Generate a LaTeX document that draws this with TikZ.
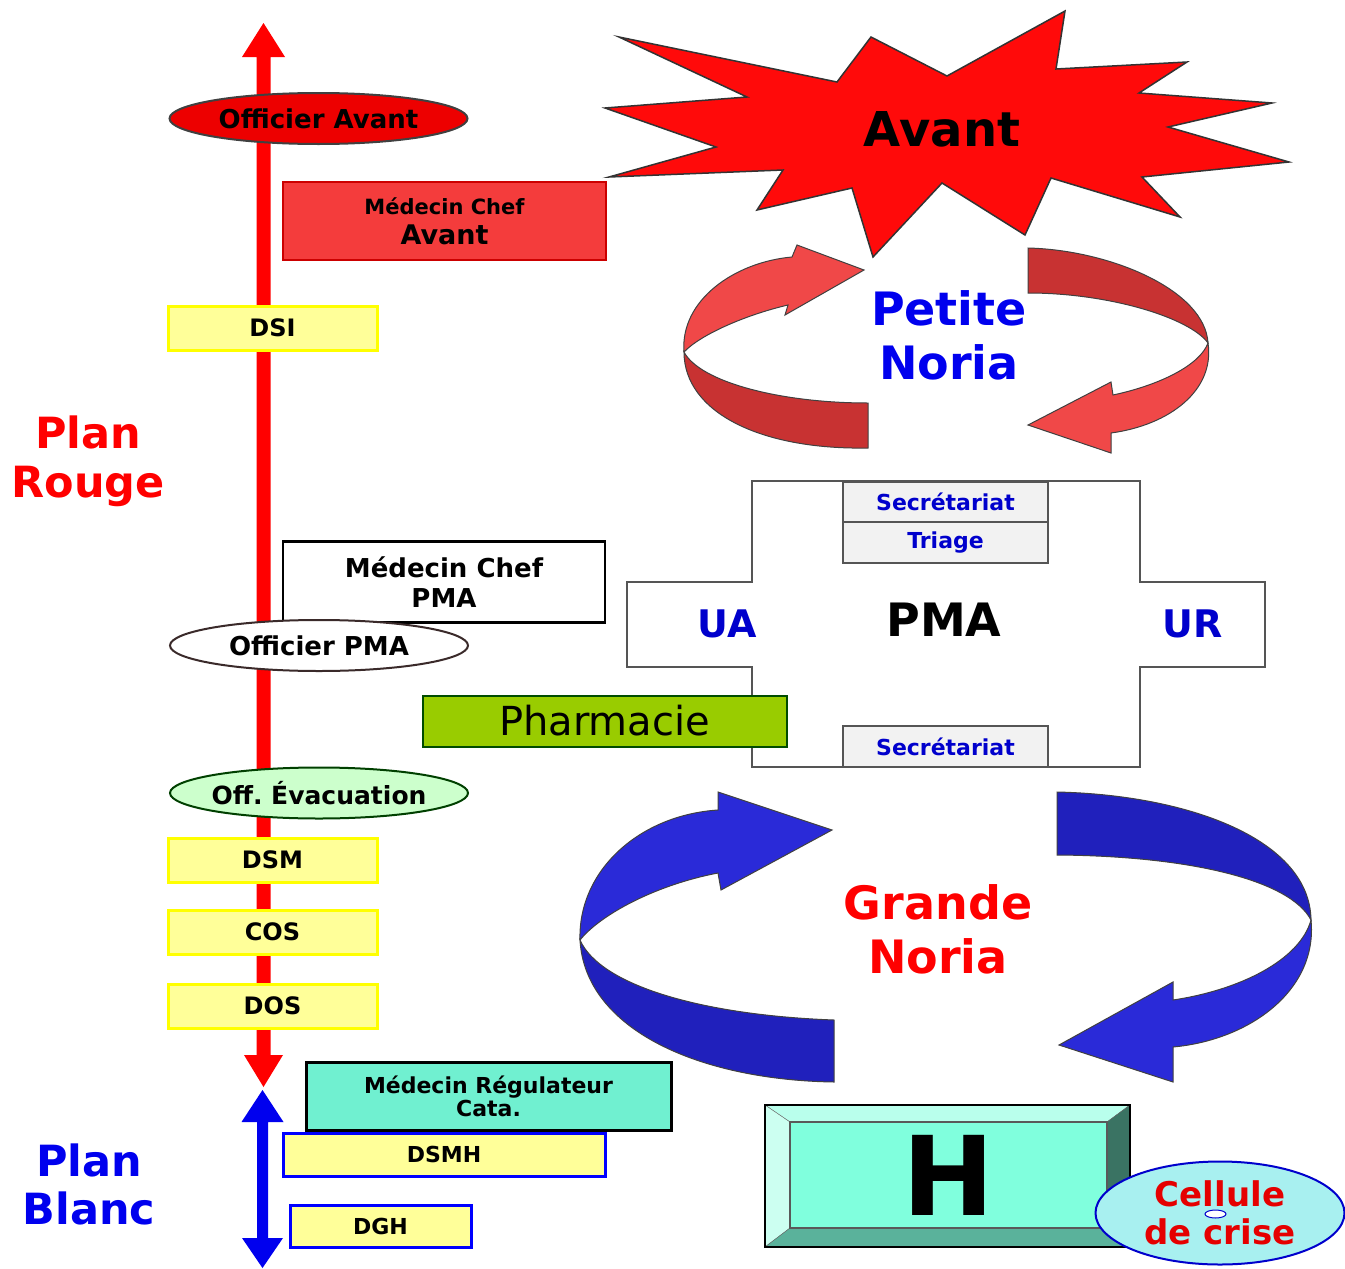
\documentclass[tikz,border=0pt]{standalone}
\usepackage{fontspec}
\setmainfont{DejaVu Sans}
\usetikzlibrary{shapes.geometric}

\definecolor{planred}{HTML}{FF0000}
\definecolor{planblue}{HTML}{0000EE}
\definecolor{starred}{HTML}{FF0A0A}
\definecolor{ovalline}{HTML}{3A2A2A}
\definecolor{yelfill}{HTML}{FFFF99}
\definecolor{yelline}{HTML}{FFFF00}
\definecolor{chefred}{HTML}{F43C3C}
\definecolor{pharmfill}{HTML}{99CC00}
\definecolor{evacfill}{HTML}{CCFFCC}
\definecolor{regfill}{HTML}{70F0D0}
\definecolor{pmaline}{HTML}{555555}
\definecolor{secfill}{HTML}{F2F2F2}
\definecolor{unitblue}{HTML}{0000CC}
\definecolor{plight}{HTML}{F04848}
\definecolor{pdark}{HTML}{C83232}
\definecolor{glight}{HTML}{2A2AD8}
\definecolor{gdark}{HTML}{2020BC}
\definecolor{hface}{HTML}{80FFDD}
\definecolor{celfill}{HTML}{A8F0F0}

\newcommand{\fsz}[2]{\fontsize{#1}{#2}\selectfont}

\tikzset{
  lbl/.style={inner sep=0pt, align=center},
  plate/.style={lbl, rectangle, draw, line width=2pt},
  yelbox/.style={plate, draw=yelline, fill=yelfill, line width=3pt,
    minimum width=209pt, minimum height=44pt, font=\fsz{24}{28}\bfseries},
  bluebox/.style={plate, draw=blue, fill=yelfill, line width=3pt,
    minimum height=43pt, font=\fsz{22}{26}\bfseries},
  oval/.style={lbl, ellipse, draw=ovalline, line width=2pt, inner xsep=-12pt,
    minimum width=298pt, minimum height=51pt, font=\fsz{26}{30}\bfseries},
  secbox/.style={plate, draw=pmaline, fill=secfill, minimum width=205pt,
    minimum height=40pt, font=\fsz{22}{26}\bfseries, text=unitblue},
  ribbon/.style={draw=black!75, line width=1pt},
  bigword/.style={lbl, font=\fsz{46}{54}\bfseries},
}

\begin{document}
\begin{tikzpicture}[x=1pt, y=-1pt]
\useasboundingbox (0,0) rectangle (1345,1269);

% plan axes
\fill[planred] (263.5,23) -- (285,57) -- (270.5,57) -- (270.5,1055) -- (283,1055)
  -- (263.5,1087) -- (244,1055) -- (256.5,1055) -- (256.5,57) -- (242,57) -- cycle;
\fill[planblue] (262.5,1090) -- (283.5,1122) -- (268,1122) -- (268,1238) -- (283,1238)
  -- (262.5,1268) -- (242,1238) -- (257,1238) -- (257,1122) -- (241.5,1122) -- cycle;

% star
\draw[fill=starred, draw=black!80, line width=1.5pt]
  (619,37) -- (837,82) -- (871,37) -- (947,76) -- (1065,11) -- (1056,69)
  -- (1187,62) -- (1139,93) -- (1272,103) -- (1168,127) -- (1289,162)
  -- (1142,177) -- (1180,217) -- (1051,178) -- (1025,235) -- (942,183)
  -- (873,257) -- (852,188) -- (757,210) -- (783,170) -- (609,177)
  -- (716,147) -- (605,108) -- (747,97) -- cycle;
\node[lbl, font=\fsz{48}{54}\bfseries] (avant) at (942,129) {Avant};

% petite noria
\draw[ribbon, fill=pdark] (868,448) .. controls (760,450) and (684,412) .. (684,352)
  .. controls (700,382) and (780,403) .. (868,403) -- cycle;
\draw[ribbon, fill=plight] (684,352) .. controls (680,300) and (735,262) .. (792,257)
  -- (797,245) -- (864,270) -- (785,315) -- (788,305)
  .. controls (745,315) and (700,335) .. (684,352) -- cycle;
\draw[ribbon, fill=pdark] (1028,248) .. controls (1110,250) and (1205,290) .. (1208,343)
  .. controls (1190,318) and (1110,293) .. (1028,293) -- cycle;
\draw[ribbon, fill=plight] (1208,343) .. controls (1215,390) and (1170,425) .. (1111,433)
  -- (1111,453) -- (1028,425) -- (1111,382) -- (1113,395)
  .. controls (1160,385) and (1200,365) .. (1208,343) -- cycle;
\node[bigword, text=planblue] (petite) at (949,335) {Petite\\Noria};

% grande noria
\draw[ribbon, fill=glight] (580,940) .. controls (578,870) and (640,815) .. (718,810)
  -- (718,792) -- (832,830) -- (721,890) -- (718,873)
  .. controls (655,885) and (600,915) .. (580,940) -- cycle;
\draw[ribbon, fill=gdark] (580,940) .. controls (585,1030) and (700,1080) .. (834,1082)
  -- (834,1020) .. controls (700,1015) and (600,985) .. (580,940) -- cycle;
\draw[ribbon, fill=gdark] (1057,792) .. controls (1190,795) and (1310,840) .. (1311,920)
  .. controls (1290,880) and (1190,856) .. (1057,855) -- cycle;
\draw[ribbon, fill=glight] (1311,920) .. controls (1318,990) and (1250,1040) .. (1173,1047)
  -- (1173,1082) -- (1059,1045) -- (1173,982) -- (1173,1000)
  .. controls (1240,990) and (1300,960) .. (1311,920) -- cycle;
\node[bigword, text=planred] (grande) at (938,929) {Grande\\Noria};

% PMA cross
\draw[draw=pmaline, fill=white, line width=2pt]
  (752,481) -- (1140,481) -- (1140,582) -- (1265,582) -- (1265,667) -- (1140,667)
  -- (1140,767) -- (752,767) -- (752,667) -- (627,667) -- (627,582) -- (752,582) -- cycle;
\node[secbox] (secr1) at (945.5,502) {Secrétariat};
\node[secbox, minimum height=41pt] (triage) at (945.5,542.5) {Triage};
\node[secbox, minimum height=41pt] (secr2) at (945.5,746.5) {Secrétariat};
\node[lbl, font=\fsz{38}{42}\bfseries, text=unitblue] (ua) at (727,624) {UA};
\node[lbl, font=\fsz{38}{42}\bfseries, text=unitblue] (ur) at (1193,624) {UR};
\node[lbl, font=\fsz{46}{50}\bfseries] (pma) at (944,620) {PMA};

% plan rouge
\node[oval, fill=red!93!black, draw=black!75] (offavant) at (318.5,118.5) {Officier Avant};
\node[plate, draw=red!80!black, fill=chefred, minimum width=323pt, minimum height=78pt,
  font=\fsz{27}{30}\bfseries] (chefavant) at (444.5,221)
  {{\fsz{21}{30}\bfseries Médecin Chef}\\Avant};
\node[yelbox] (dsi) at (272.5,328) {DSI};
\node[lbl, font=\fsz{43}{49}\bfseries, text=planred] (rouge) at (88,461) {Plan\\Rouge};
\node[plate, draw=black, line width=2.5pt, fill=white, minimum width=322pt,
  minimum height=81pt, font=\fsz{26}{30}\bfseries] (chefpma) at (444,582) {Médecin Chef\\PMA};
\node[oval, fill=white] (offpma) at (319,645.5) {Officier PMA};
\node[plate, draw=green!30!black, fill=pharmfill, minimum width=364pt, minimum height=51pt,
  font=\fsz{40}{44}] (pharma) at (604.5,721) {Pharmacie};
\node[oval, fill=evacfill, draw=green!25!black, font=\fsz{25}{30}\bfseries] (offevac) at (319,793)
  {Off.\ Évacuation};
\node[yelbox] (dsm) at (272.5,860) {DSM};
\node[yelbox] (cos) at (272.5,932) {COS};
\node[yelbox] (dos) at (272.5,1006) {DOS};

% plan blanc
\node[plate, draw=black, line width=3pt, fill=regfill, minimum width=365pt, minimum height=68pt,
  font=\fsz{22}{23}\bfseries] (regul) at (488.5,1096) {Médecin Régulateur\\Cata.};
\node[bluebox, minimum width=322pt] (dsmh) at (444,1154.5) {DSMH};
\node[bluebox, minimum width=181pt, minimum height=42pt] (dgh) at (380.5,1226) {DGH};
\node[lbl, font=\fsz{43}{48}\bfseries, text=planblue] (blanc) at (89,1184) {Plan\\Blanc};

% hopital
\draw[fill=hface!55!white, draw=black!60] (765,1105) -- (1130,1105) -- (1107,1122) -- (790,1122) -- cycle;
\draw[fill=hface!40!white, draw=black!60] (765,1105) -- (790,1122) -- (790,1228) -- (765,1247) -- cycle;
\draw[fill=hface!45!black, draw=black!60] (1130,1105) -- (1130,1247) -- (1107,1228) -- (1107,1122) -- cycle;
\draw[fill=hface!70!black, draw=black!60] (765,1247) -- (1130,1247) -- (1107,1228) -- (790,1228) -- cycle;
\node[plate, draw=black!65, line width=1.5pt, fill=hface, minimum width=317pt, minimum height=106pt,
  font=\fsz{110}{110}\bfseries] (hosp) at (948.5,1175) {H};
\draw[black, line width=2pt] (765,1105) rectangle (1130,1247);
\node[lbl, ellipse, draw=blue!80!black, line width=2pt, fill=celfill, minimum width=249pt,
  minimum height=103pt, font=\fsz{34}{38}\bfseries, text=red!90!black] (cellule) at (1220,1213)
  {Cellule\\de crise};
\node[lbl, ellipse, draw=blue!80!black, line width=1pt, fill=white, minimum width=21pt,
  minimum height=8pt] (hole) at (1215.5,1214) {};
\end{tikzpicture}
\end{document}
